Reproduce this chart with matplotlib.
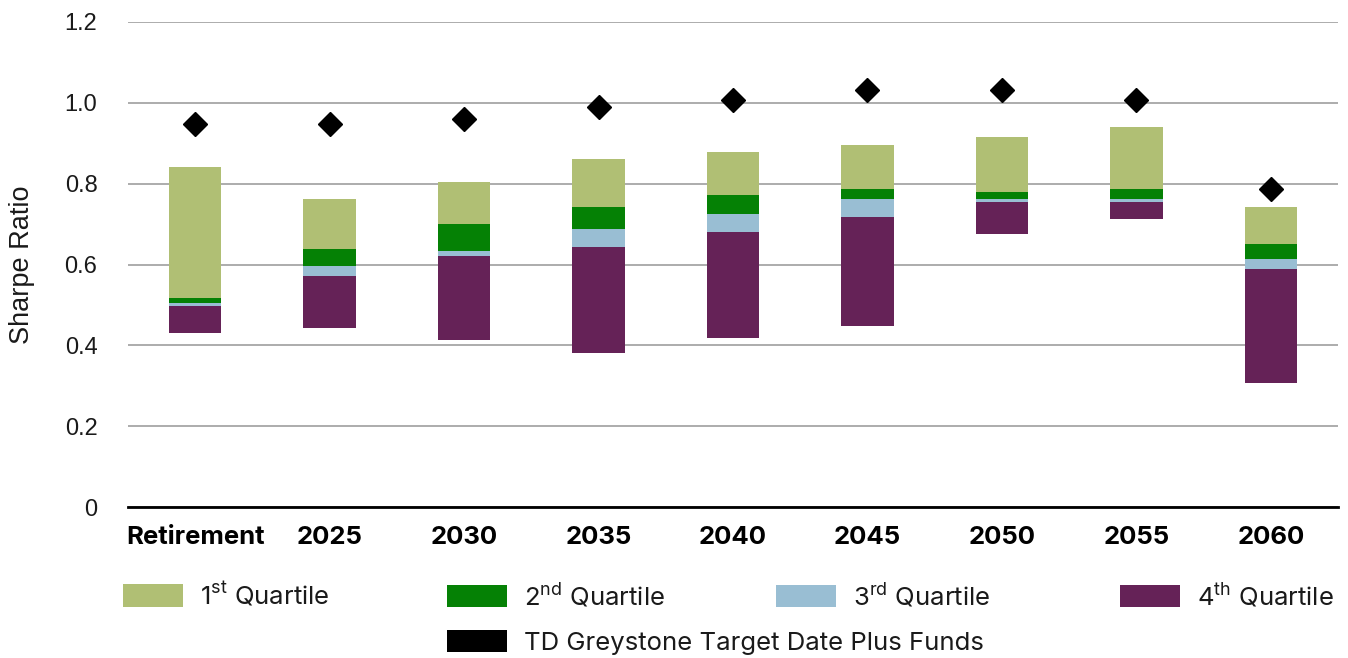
import matplotlib
matplotlib.use("Agg")
import matplotlib.pyplot as plt
from matplotlib.patches import Patch
import numpy as np

plt.rcParams['font.family'] = ['Inter', 'DejaVu Sans']
plt.rcParams['mathtext.fontset'] = 'custom'
plt.rcParams['mathtext.rm'] = 'Inter'

categories = ['Retirement', '2025', '2030', '2035', '2040', '2045', '2050', '2055', '2060']
# quartile boundaries (Sharpe ratio)
q4_bottom = [0.430, 0.442, 0.412, 0.381, 0.418, 0.448, 0.675, 0.713, 0.306]
q4_top    = [0.497, 0.572, 0.621, 0.644, 0.680, 0.718, 0.755, 0.755, 0.588]
q3_top    = [0.505, 0.597, 0.633, 0.687, 0.724, 0.761, 0.761, 0.761, 0.613]
q2_top    = [0.516, 0.638, 0.700, 0.742, 0.773, 0.786, 0.779, 0.786, 0.650]
q1_top    = [0.842, 0.762, 0.804, 0.860, 0.878, 0.896, 0.915, 0.940, 0.743]
td_funds  = [0.947, 0.947, 0.959, 0.990, 1.007, 1.032, 1.032, 1.007, 0.786]

c1 = '#b0bf74'
c2 = '#058105'
c3 = '#99bed3'
c4 = '#652257'

fig = plt.figure(figsize=(13.48, 6.58), dpi=100)
ax = fig.add_axes([128/1348, 1-507/658, 1210/1348, 485/658])

x = np.arange(len(categories))
w = 0.39
q4_bottom_a = np.array(q4_bottom)
q4_top_a = np.array(q4_top)
q3_top_a = np.array(q3_top)
q2_top_a = np.array(q2_top)
q1_top_a = np.array(q1_top)

ax.bar(x, q4_top_a - q4_bottom_a, w, bottom=q4_bottom_a, color=c4, zorder=3)
ax.bar(x, q3_top_a - q4_top_a, w, bottom=q4_top_a, color=c3, zorder=3)
ax.bar(x, q2_top_a - q3_top_a, w, bottom=q3_top_a, color=c2, zorder=3)
ax.bar(x, q1_top_a - q2_top_a, w, bottom=q2_top_a, color=c1, zorder=3)
ax.plot(x, td_funds, linestyle='none', marker='D', markersize=12, color='black', zorder=4)

ax.set_xlim(-0.5, len(categories) - 0.5)
ax.set_ylim(0, 1.2)
yt = [0, 0.2, 0.4, 0.6, 0.8, 1.0, 1.2]
ax.set_yticks(yt)
ax.set_yticklabels(['0', '0.2', '0.4', '0.6', '0.8', '1.0', '1.2'], fontsize=17,
                   color='#1a1a1a', family=['Liberation Sans', 'DejaVu Sans'])
ax.set_xticks(x)
ax.set_xticklabels(categories, fontsize=18.5, fontweight='bold', color='black')
ax.tick_params(axis='y', length=0, pad=22)
ax.tick_params(axis='x', length=0, pad=14)
ax.yaxis.grid(True, color='#a6a6a6', linewidth=1.3, zorder=0)
ax.set_axisbelow(True)
for s in ['top', 'right', 'left']:
    ax.spines[s].set_visible(False)
ax.spines['bottom'].set_color('black')
ax.spines['bottom'].set_linewidth(2)
ax.spines['bottom'].set_zorder(5)

fig.text(22/1348, 1-265/658, 'Sharpe Ratio', rotation=90, ha='center', va='center',
         fontsize=19.5, color='#1a1a1a', family=['Liberation Sans', 'DejaVu Sans'])

labels = [r'1$^{\mathrm{st}}$ Quartile', r'2$^{\mathrm{nd}}$ Quartile',
          r'3$^{\mathrm{rd}}$ Quartile', r'4$^{\mathrm{th}}$ Quartile',
          'TD Greystone Target Date Plus Funds']
colors = [c1, c2, c3, c4, 'black']
pos = [(123, 581), (447, 581), (776, 581), (1120, 581), (447, 630)]
for lab, col, (px, py) in zip(labels, colors, pos):
    leg = fig.legend(handles=[Patch(facecolor=col, edgecolor='none')], labels=[lab],
                     loc='upper left', bbox_to_anchor=(px/1348, 1-py/658),
                     frameon=False, fontsize=18.5, handlelength=2.35, handleheight=0.97,
                     handletextpad=0.66, borderpad=0, borderaxespad=0)
    for t in leg.get_texts():
        t.set_color('#1a1a1a')

fig.savefig('out.png', dpi=100)
